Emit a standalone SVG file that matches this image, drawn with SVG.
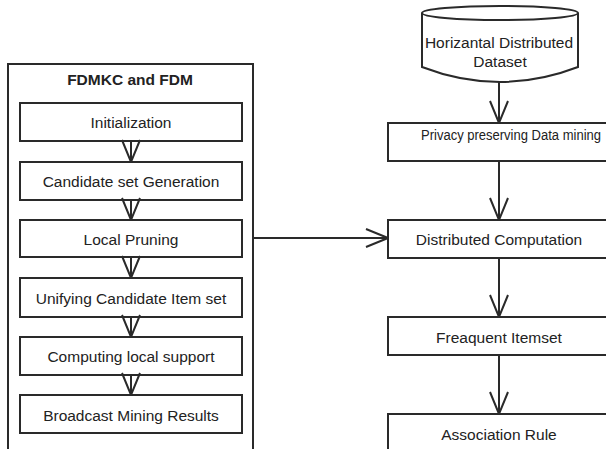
<svg xmlns="http://www.w3.org/2000/svg" width="606" height="449" viewBox="0 0 606 449">
<defs>
<style>
.box{fill:#fff;stroke:#2a2a2a;stroke-width:2}
.t{font-family:"Liberation Sans",Arial,sans-serif;font-size:15.5px;fill:#222;text-anchor:middle}
.b{font-weight:bold}
.c{fill:none;stroke:#2a2a2a;stroke-width:2}
</style>
<marker id="ah" markerUnits="userSpaceOnUse" markerWidth="24" markerHeight="22" viewBox="0 0 24 22" refX="23" refY="11" orient="auto">
<path d="M1,2 L23,11 L1,20" fill="none" stroke="#2a2a2a" stroke-width="2"/>
</marker>
</defs>
<rect width="606" height="449" fill="#fff"/>
<g id="outer">
<rect class="box" x="8" y="64" width="245" height="400"/>
<text class="t b" x="130" y="85">FDMKC and FDM</text>
</g>
<g id="n1"><rect class="box" x="20" y="103" width="222" height="38"/><text class="t" x="131" y="128">Initialization</text></g>
<g id="n2"><rect class="box" x="20" y="162" width="222" height="38"/><text class="t" x="131" y="187">Candidate set Generation</text></g>
<g id="n3"><rect class="box" x="20" y="220" width="222" height="37"/><text class="t" x="131" y="245">Local Pruning</text></g>
<g id="n4"><rect class="box" x="20" y="278" width="222" height="39"/><text class="t" x="131" y="304">Unifying Candidate Item set</text></g>
<g id="n5"><rect class="box" x="20" y="337" width="222" height="38"/><text class="t" x="131" y="362">Computing local support</text></g>
<g id="n6"><rect class="box" x="20" y="395" width="222" height="38"/><text class="t" x="131" y="420.5">Broadcast Mining Results</text></g>
<g id="db">
<path class="box" d="M422,13 L422,67 Q500,97 578,67 L578,13"/>
<ellipse class="box" cx="500" cy="13" rx="78" ry="7"/>
<text class="t" x="499" y="48">Horizantal Distributed</text>
<text class="t" x="500" y="67">Dataset</text>
</g>
<g id="r1"><rect class="box" x="388" y="123" width="230" height="38"/><text class="t" x="511" y="140" textLength="180" lengthAdjust="spacingAndGlyphs">Privacy preserving Data mining</text></g>
<g id="r2"><rect class="box" x="388" y="220" width="230" height="38"/><text class="t" x="499" y="245">Distributed Computation</text></g>
<g id="r3"><rect class="box" x="388" y="317" width="230" height="38"/><text class="t" x="499" y="343">Freaquent Itemset</text></g>
<g id="r4"><rect class="box" x="388" y="414" width="230" height="50"/><text class="t" x="499" y="440">Association Rule</text></g>
<g id="connectors">
<line class="c" x1="131" y1="141" x2="131" y2="162" marker-end="url(#ah)"/>
<line class="c" x1="131" y1="200" x2="131" y2="220" marker-end="url(#ah)"/>
<line class="c" x1="131" y1="257" x2="131" y2="278" marker-end="url(#ah)"/>
<line class="c" x1="131" y1="317" x2="131" y2="337" marker-end="url(#ah)"/>
<line class="c" x1="131" y1="375" x2="131" y2="395" marker-end="url(#ah)"/>
<line class="c" x1="499" y1="82" x2="499" y2="123" marker-end="url(#ah)"/>
<line class="c" x1="499" y1="161" x2="499" y2="220" marker-end="url(#ah)"/>
<line class="c" x1="499" y1="258" x2="499" y2="317" marker-end="url(#ah)"/>
<line class="c" x1="499" y1="355" x2="499" y2="414" marker-end="url(#ah)"/>
<line class="c" x1="253" y1="238" x2="388" y2="238" marker-end="url(#ah)"/>
</g>
</svg>
